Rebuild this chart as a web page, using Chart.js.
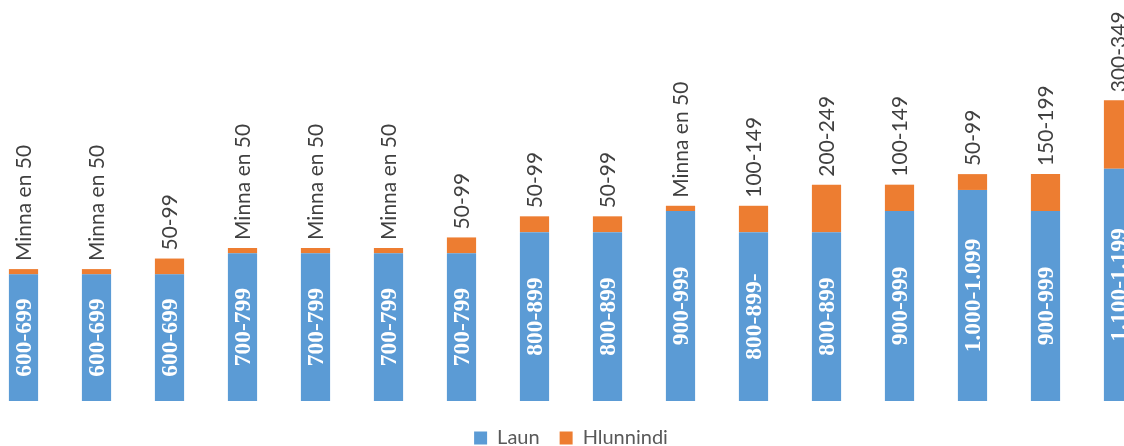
<!DOCTYPE html>
<html>
<head>
<meta charset="utf-8">
<script src="https://cdn.jsdelivr.net/npm/chart.js@4/dist/chart.umd.min.js"></script>
<style>
  html, body { margin: 0; padding: 0; background: #ffffff; overflow: hidden; width: 1124px; height: 446px; }
  #wrap { position: absolute; left: -13px; top: 0; width: 1168px; height: 458px; }
</style>
</head>
<body>
<div id="wrap"><canvas id="c" width="1168" height="458"></canvas></div>
<script>
const categories = ["1","2","3","4","5","6","7","8","9","10","11","12","13","14","15","16"];
const launValues = [600, 600, 600, 700, 700, 700, 700, 800, 800, 900, 800, 800, 900, 1000, 900, 1100];
const hlunnindiValues = [25, 25, 75, 25, 25, 25, 75, 75, 75, 25, 125, 225, 125, 75, 175, 325];
const launLabels = ["600-699","600-699","600-699","700-799","700-799","700-799","700-799","800-899","800-899","900-999","800-899-","800-899","900-999","1.000-1.099","900-999","1.100-1.199"];
const hlunnindiLabels = ["Minna en 50","Minna en 50","50-99","Minna en 50","Minna en 50","Minna en 50","50-99","50-99","50-99","Minna en 50","100-149","200-249","100-149","50-99","150-199","300-349"];
const seriesNames = ["Laun", "Hlunnindi"];

const labelPlugin = {
  id: 'barLabels',
  afterDatasetsDraw(chart) {
    const ctx = chart.ctx;
    const m0 = chart.getDatasetMeta(0);
    const m1 = chart.getDatasetMeta(1);
    ctx.save();
    // inside labels (Laun)
    ctx.font = 'bold 23.5px "Liberation Serif", serif';
    ctx.fillStyle = '#ffffff';
    ctx.textAlign = 'center';
    ctx.textBaseline = 'middle';
    m0.data.forEach((bar, i) => {
      const cy = (bar.y + bar.base) / 2;
      ctx.save();
      ctx.translate(bar.x, cy);
      ctx.rotate(-Math.PI / 2);
      ctx.fillText(launLabels[i], 0, 1);
      ctx.restore();
    });
    // top labels (Hlunnindi)
    ctx.font = '21px Lato, sans-serif';
    ctx.fillStyle = '#404040';
    ctx.textAlign = 'left';
    ctx.textBaseline = 'middle';
    m1.data.forEach((bar, i) => {
      ctx.save();
      ctx.translate(bar.x, bar.y - 8);
      ctx.rotate(-Math.PI / 2);
      ctx.fillText(hlunnindiLabels[i], 0, 1);
      ctx.restore();
    });
    ctx.restore();
  }
};

new Chart(document.getElementById('c'), {
  type: 'bar',
  data: {
    labels: categories,
    datasets: [
      { label: seriesNames[0], data: launValues, backgroundColor: '#5B9BD5', barPercentage: 0.4, categoryPercentage: 1.0 },
      { label: seriesNames[1], data: hlunnindiValues, backgroundColor: '#ED7D31', barPercentage: 0.4, categoryPercentage: 1.0 }
    ]
  },
  options: {
    responsive: false,
    animation: false,
    layout: { padding: 0 },
    plugins: {
      legend: {
        position: 'bottom',
        labels: {
          boxWidth: 13,
          boxHeight: 13,
          padding: 20,
          color: '#595959',
          font: { family: 'Lato', size: 20 }
        }
      },
      tooltip: { enabled: false }
    },
    scales: {
      x: {
        stacked: true,
        display: true,
        grid: { display: false },
        border: { display: false },
        ticks: { display: false },
        afterFit(scale) { scale.height = 7; }
      },
      y: {
        stacked: true,
        display: false,
        min: 0,
        max: 1900
      }
    }
  },
  plugins: [labelPlugin]
});
</script>
</body>
</html>
